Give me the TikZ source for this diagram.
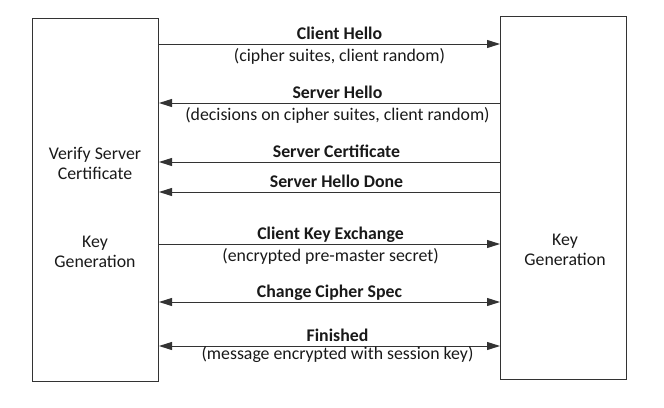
\documentclass[tikz,border=0pt]{standalone}
\usepackage{fontspec}
\setmainfont{Carlito}
\usetikzlibrary{arrows.meta}

\tikzset{
  party/.style={draw=black!80, line width=1pt, anchor=north west,
    minimum width=126pt, minimum height=363pt},
  msg/.style={draw=black!80, line width=1pt,
    >={Triangle[length=13pt,width=8pt]}},
  head/.style={anchor=base, xshift=#1, yshift=5pt, inner sep=0pt,
    font=\fontsize{17.8}{20}\selectfont\bfseries},
  head/.default=8pt,
  sub/.style={anchor=base, xshift=#1, yshift=-17pt, inner sep=0pt},
  sub/.default=8pt,
  boxtext/.style={align=center}
}

\begin{document}
\begin{tikzpicture}[x=1pt, y=-1pt, font=\fontsize{17.8}{20}\selectfont, text=black!90]
  \useasboundingbox (0,0) rectangle (664,407);

  % Draw the two parties
  \node[party] (client) at (32,18) {};
  \node[party] (server) at (500,16) {};

  % Texts inside the boxes
  \node[boxtext] (verify) at (95,163) {Verify Server\\Certificate};
  \node[boxtext] (ckey) at (95,252) {Key\\Generation};
  \node[boxtext] (skey) at (565,250) {Key\\Generation};

  % Handshake messages
  \draw[msg, ->] (client.east |- 0,44) -- node[head=10pt] {Client Hello}
    node[sub=10pt] {(cipher suites, client random)} (server.west |- 0,44);
  \draw[msg, <-] (client.east |- 0,103) -- node[head] {Server Hello}
    node[sub] {(decisions on cipher suites, client random)} (server.west |- 0,103);
  \draw[msg, <-] (client.east |- 0,162) -- node[head=7pt] {Server Certificate} (server.west |- 0,162);
  \draw[msg, <-] (client.east |- 0,192) -- node[head=7pt] {Server Hello Done} (server.west |- 0,192);
  \draw[msg, ->] (client.east |- 0,244) -- node[head=1pt] {Client Key Exchange}
    node[sub=1pt] {(encrypted pre-master secret)} (server.west |- 0,244);
  \draw[msg, <->] (client.east |- 0,302) -- node[head=0pt] {Change Cipher Spec} (server.west |- 0,302);
  \draw[msg, <->] (client.east |- 0,346) -- node[head] {Finished}
    node[sub, yshift=4pt] {(message encrypted with session key)} (server.west |- 0,346);
\end{tikzpicture}
\end{document}
